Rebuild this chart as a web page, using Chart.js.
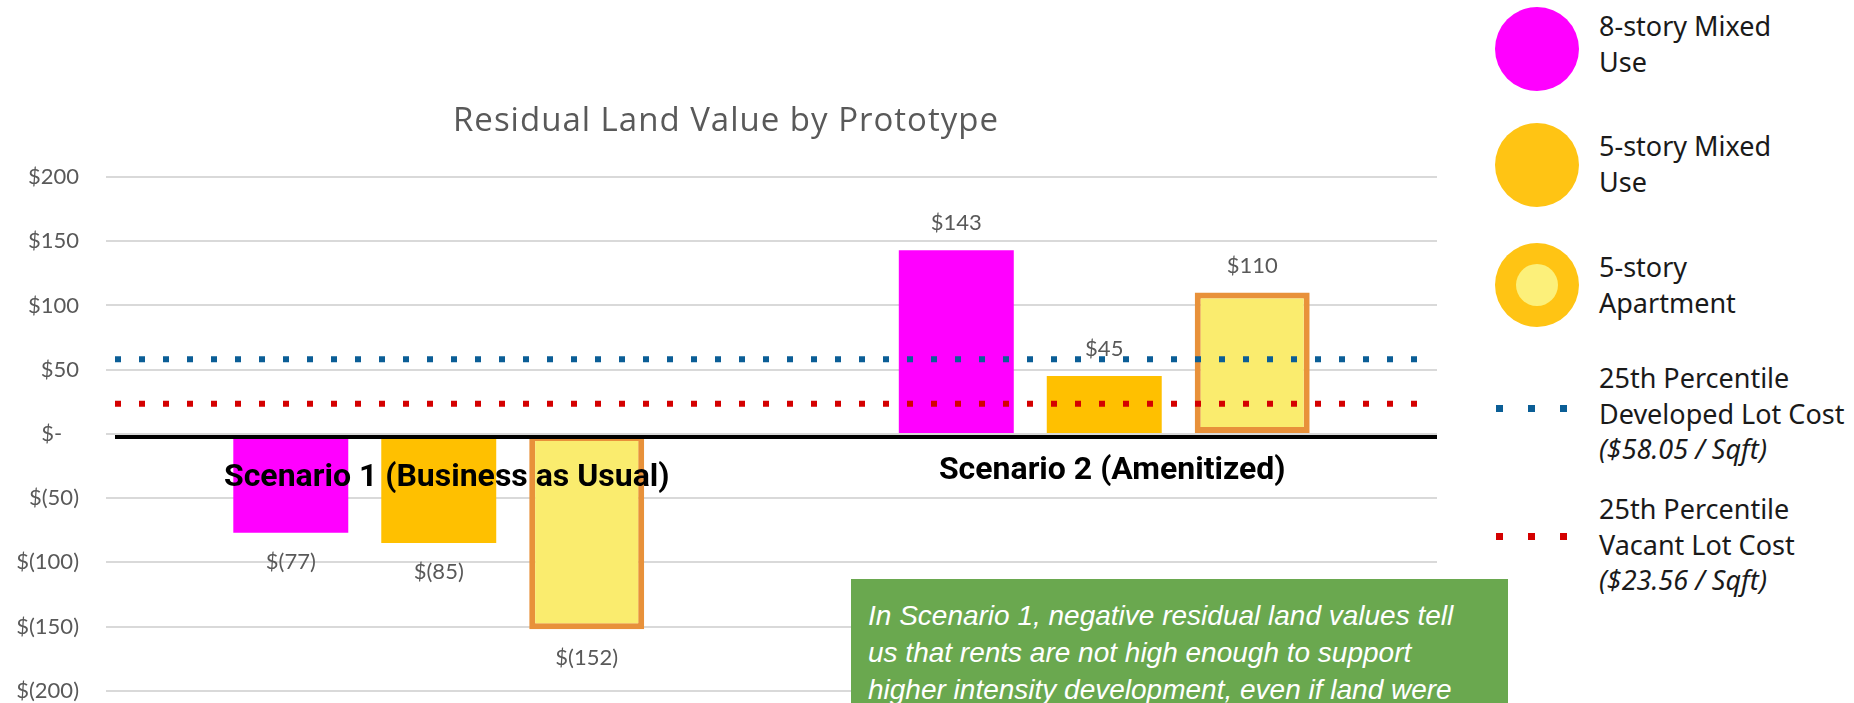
<!DOCTYPE html>
<html>
<head>
<meta charset="utf-8">
<script src="https://cdn.jsdelivr.net/npm/chart.js@4"></script>
<style>
    body { margin: 0; width: 1854px; height: 703px; overflow: hidden; background: #fff; position: relative; }
    #chartBox { position: absolute; left: 0; top: 0; width: 1450px; height: 731px; }
    #title { position: absolute; left: 0; top: 97px; width: 1452px; text-align: center; letter-spacing: 1px;
             font: 33px 'Open Sans', sans-serif; color: #595959; line-height: 44px; }
    .lg-item { position: absolute; left: 1599px; font: 27px 'Noto Sans', sans-serif; color: #1a1a1a; line-height: 35.5px; }
    .lg-circle { position: absolute; left: 1495px; width: 84px; height: 84px; border-radius: 50%; }
    .lg-inner { position: absolute; left: 21px; top: 21px; width: 42px; height: 42px; border-radius: 50%; }
    .lg-dot { position: absolute; width: 7px; height: 7px; }
    #note { position: absolute; left: 851px; top: 579px; width: 640px; height: 140px; background: #6aa84f;
            padding: 18px 0 0 17px; color: #fff; font: italic 28px 'Liberation Sans', Arial, sans-serif; line-height: 37px; }
</style>
</head>
<body>
<div id="chartBox"><canvas id="rlvChart"></canvas></div>
<div id="title">Residual Land Value by Prototype</div>
<div id="legend"></div>
<div id="note">In Scenario 1, negative residual land values tell<br>us that rents are not high enough to support<br>higher intensity development, even if land were</div>

<script>
// --- DATA ---
const scenarios = ['Scenario 1 (Business as Usual)', 'Scenario 2 (Amenitized)'];
const seriesLabels = [['8-story Mixed', 'Use'], ['5-story Mixed', 'Use'], ['5-story', 'Apartment']];
const eightStoryMixed = [-77, 143];
const fiveStoryMixed = [-85, 45];
const fiveStoryApt = [-152, 110];
const thresholdLabels = [['25th Percentile', 'Developed Lot Cost'], ['25th Percentile', 'Vacant Lot Cost']];
const thresholdValues = [58.05, 23.56];
const yTicks = [-200, -150, -100, -50, 0, 50, 100, 150, 200];

const barColors = ['#ff00ff', '#ffc000', '#faec6e'];
const thresholdColors = ['#0b5e96', '#d40000'];

// accounting style: $143, $(77), $-
function fmt(v) {
    if (v === 0) return '$-';
    return v < 0 ? `$(${-v})` : `$${v}`;
}

// --- OVERLAYS: dotted cost lines, zero line, value labels, scenario names ---
const overlayPlugin = {
    id: 'overlay',
    afterDatasetsDraw(chart) {
        const { ctx, chartArea, scales: { x, y } } = chart;
        ctx.save();

        thresholdValues.forEach((v, i) => {
            const py = y.getPixelForValue(v);
            ctx.strokeStyle = thresholdColors[i];
            ctx.lineWidth = 6;
            ctx.setLineDash([6, 18]);
            ctx.beginPath();
            ctx.moveTo(chartArea.left + 9, py);
            ctx.lineTo(chartArea.right - 20, py);
            ctx.stroke();
        });
        ctx.setLineDash([]);

        const zy = y.getPixelForValue(0) + 3;
        ctx.strokeStyle = '#000';
        ctx.lineWidth = 4;
        ctx.beginPath();
        ctx.moveTo(chartArea.left + 9, zy);
        ctx.lineTo(chartArea.right, zy);
        ctx.stroke();

        ctx.font = "22px Lato, sans-serif";
        ctx.fillStyle = '#595959';
        ctx.textAlign = 'center';
        ctx.textBaseline = 'middle';
        chart.data.datasets.forEach((ds, di) => {
            chart.getDatasetMeta(di).data.forEach((bar, i) => {
                const v = ds.data[i];
                const ly = v < 0 ? bar.y + 29 : bar.y - 27;
                ctx.fillText(fmt(v), bar.x, ly);
            });
        });

        ctx.font = "bold 32px Roboto, sans-serif";
        ctx.fillStyle = '#000';
        scenarios.forEach((s, i) => {
            ctx.fillText(s, x.getPixelForValue(i) + 8, y.getPixelForValue(0) + (i === 0 ? 44 : 37));
        });
        ctx.restore();
    }
};

function renderChart() {
    const ctx = document.getElementById('rlvChart').getContext('2d');
    new Chart(ctx, {
        type: 'bar',
        data: {
            labels: scenarios,
            datasets: [
                { label: seriesLabels[0].join(' '), data: eightStoryMixed, backgroundColor: barColors[0], borderWidth: 0 },
                { label: seriesLabels[1].join(' '), data: fiveStoryMixed, backgroundColor: barColors[1], borderWidth: 0 },
                { label: seriesLabels[2].join(' '), data: fiveStoryApt, backgroundColor: barColors[2],
                  borderColor: '#e8913a', borderWidth: 6, borderSkipped: false }
            ]
        },
        options: {
            responsive: true,
            maintainAspectRatio: false,
            animation: false,
            categoryPercentage: 0.667,
            barPercentage: 0.777,
            layout: { padding: { top: 177, bottom: 13, left: 0, right: 13 } },
            plugins: { legend: { display: false }, tooltip: { enabled: false } },
            scales: {
                x: { display: false },
                y: {
                    min: yTicks[0],
                    max: yTicks[yTicks.length - 1],
                    afterBuildTicks: s => { s.ticks = yTicks.map(v => ({ value: v })); },
                    afterFit: s => { s.width = 106; },
                    border: { display: false },
                    grid: { color: '#d9d9d9', lineWidth: 2, drawTicks: false },
                    // the dash sits left like an accounting column
                    ticks: { padding: 27, color: '#595959', font: { family: 'Lato', size: 22 },
                             callback: v => v === 0 ? '$-   ' : fmt(v) }
                }
            }
        },
        plugins: [overlayPlugin]
    });
}

// --- LEGEND (html, right side) ---
function buildLegend() {
    const lg = document.getElementById('legend');
    const circleTops = [7, 123, 243];
    const textTops = [8, 128, 249];
    seriesLabels.forEach((lines, i) => {
        const inner = i === 2 ? '<div class="lg-inner" style="background:#fcf07a"></div>' : '';
        const col = i === 0 ? '#ff00ff' : '#ffc414';
        lg.innerHTML += `<div class="lg-circle" style="top:${circleTops[i]}px;background:${col}">${inner}</div>`;
        lg.innerHTML += `<div class="lg-item" style="top:${textTops[i]}px">${lines.join('<br>')}</div>`;
    });
    const dotRows = [405, 533];
    const thTextTops = [360, 491];
    thresholdLabels.forEach((lines, i) => {
        [1496, 1528, 1560].forEach(dx => {
            lg.innerHTML += `<div class="lg-dot" style="left:${dx}px;top:${dotRows[i]}px;background:${thresholdColors[i]}"></div>`;
        });
        lg.innerHTML += `<div class="lg-item" style="top:${thTextTops[i]}px">${lines.join('<br>')}<br><i>($${thresholdValues[i].toFixed(2)} / Sqft)</i></div>`;
    });
}

document.addEventListener('DOMContentLoaded', () => {
    buildLegend();
    renderChart();
});
</script>
</body>
</html>
